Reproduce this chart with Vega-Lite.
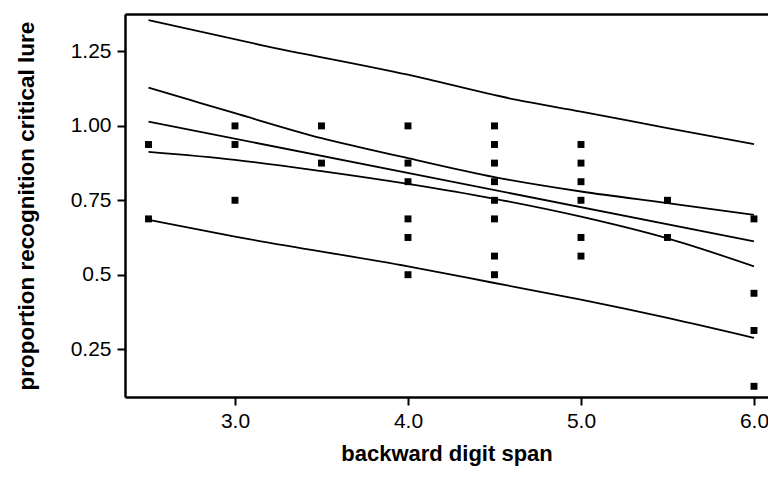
{
  "$schema": "https://vega.github.io/schema/vega-lite/v6.json",
  "autosize": {"type": "none"},
  "padding": {"left": 125, "top": 14, "right": 0, "bottom": 82},
  "width": 643,
  "height": 383,
  "background": "white",
  "config": {
    "view": {"stroke": null},
    "font": "Liberation Sans",
    "axis": {
      "domainColor": "black", "domainWidth": 2.5, "tickColor": "black", "tickWidth": 2, "tickSize": 8,
      "labelColor": "black", "labelFontSize": 21, "labelFont": "Liberation Sans",
      "titleColor": "black", "titleFont": "Liberation Sans", "titleFontWeight": "bold", "grid": false
    }
  },
  "datasets": {
    "points": [
      {"span": 2.5, "prop": 0.9375}, {"span": 2.5, "prop": 0.6875},
      {"span": 3.0, "prop": 1.0}, {"span": 3.0, "prop": 0.9375}, {"span": 3.0, "prop": 0.75},
      {"span": 3.5, "prop": 1.0}, {"span": 3.5, "prop": 0.875},
      {"span": 4.0, "prop": 1.0}, {"span": 4.0, "prop": 0.875}, {"span": 4.0, "prop": 0.8125}, {"span": 4.0, "prop": 0.6875}, {"span": 4.0, "prop": 0.625}, {"span": 4.0, "prop": 0.5},
      {"span": 4.5, "prop": 1.0}, {"span": 4.5, "prop": 0.9375}, {"span": 4.5, "prop": 0.875}, {"span": 4.5, "prop": 0.8125}, {"span": 4.5, "prop": 0.75}, {"span": 4.5, "prop": 0.6875}, {"span": 4.5, "prop": 0.5625}, {"span": 4.5, "prop": 0.5},
      {"span": 5.0, "prop": 0.9375}, {"span": 5.0, "prop": 0.875}, {"span": 5.0, "prop": 0.8125}, {"span": 5.0, "prop": 0.75}, {"span": 5.0, "prop": 0.625}, {"span": 5.0, "prop": 0.5625},
      {"span": 5.5, "prop": 0.75}, {"span": 5.5, "prop": 0.625},
      {"span": 6.0, "prop": 0.6875}, {"span": 6.0, "prop": 0.4375}, {"span": 6.0, "prop": 0.3125}, {"span": 6.0, "prop": 0.125}
    ],
    "lines": [
      {"series": "fit", "span": 2.5, "prop": 1.0144}, {"series": "fit", "span": 6.0, "prop": 0.6117},
      {"series": "ciUpper", "span": 2.5, "prop": 1.1285}, {"series": "ciUpper", "span": 2.74, "prop": 1.0872}, {"series": "ciUpper", "span": 3.0, "prop": 1.0426}, {"series": "ciUpper", "span": 3.5, "prop": 0.9587}, {"series": "ciUpper", "span": 4.0, "prop": 0.8916}, {"series": "ciUpper", "span": 4.5, "prop": 0.8279}, {"series": "ciUpper", "span": 5.0, "prop": 0.7795}, {"series": "ciUpper", "span": 5.5, "prop": 0.7406}, {"series": "ciUpper", "span": 6.0, "prop": 0.7013},
      {"series": "ciLower", "span": 2.5, "prop": 0.9128}, {"series": "ciLower", "span": 3.0, "prop": 0.886}, {"series": "ciLower", "span": 3.5, "prop": 0.848}, {"series": "ciLower", "span": 4.0, "prop": 0.805}, {"series": "ciLower", "span": 4.5, "prop": 0.755}, {"series": "ciLower", "span": 5.0, "prop": 0.695}, {"series": "ciLower", "span": 5.5, "prop": 0.622}, {"series": "ciLower", "span": 6.0, "prop": 0.528},
      {"series": "piUpper", "span": 2.5, "prop": 1.3557}, {"series": "piUpper", "span": 3.15, "prop": 1.2718}, {"series": "piUpper", "span": 4.0, "prop": 1.172}, {"series": "piUpper", "span": 4.63, "prop": 1.0872}, {"series": "piUpper", "span": 5.0, "prop": 1.048}, {"series": "piUpper", "span": 5.5, "prop": 0.9923}, {"series": "piUpper", "span": 6.0, "prop": 0.9386},
      {"series": "piLower", "span": 2.5, "prop": 0.6846}, {"series": "piLower", "span": 3.0, "prop": 0.628}, {"series": "piLower", "span": 4.0, "prop": 0.5279}, {"series": "piLower", "span": 4.5, "prop": 0.4721}, {"series": "piLower", "span": 5.0, "prop": 0.4161}, {"series": "piLower", "span": 5.5, "prop": 0.3547}, {"series": "piLower", "span": 6.0, "prop": 0.2876}
    ]
  },
  "layer": [
    {
      "data": {"name": "lines"},
      "mark": {"type": "line", "color": "black", "strokeWidth": 1.8, "interpolate": "monotone"},
      "encoding": {
        "x": {"field": "span", "type": "quantitative", "scale": {"domain": [2.3642, 6.081], "nice": false, "zero": false},
              "axis": {"orient": "top", "labels": false, "ticks": false, "title": null, "domain": true}},
        "y": {"field": "prop", "type": "quantitative", "scale": {"domain": [0.089, 1.376], "nice": false, "zero": false}, "axis": null},
        "detail": {"field": "series", "type": "nominal"}
      }
    },
    {
      "data": {"name": "points"},
      "mark": {"type": "point", "shape": "square", "filled": true, "color": "black", "size": 48, "opacity": 1},
      "encoding": {
        "x": {"field": "span", "type": "quantitative",
              "axis": {"orient": "bottom", "values": [3, 4, 5, 6], "format": ".1f", "title": "backward digit span", "titleFontSize": 22, "titlePadding": 12, "labelPadding": 5}},
        "y": {"field": "prop", "type": "quantitative",
              "axis": {"orient": "left", "values": [0.25, 0.5, 0.75, 1.0, 1.25], "labelExpr": "datum.value == 0.5 ? '0.5 ' : format(datum.value, '.2f')", "title": "proportion recognition critical lure", "titleFontSize": 22.5, "titlePadding": 32, "labelPadding": 6}}
      }
    }
  ],
  "resolve": {"axis": {"x": "independent", "y": "independent"}}
}
